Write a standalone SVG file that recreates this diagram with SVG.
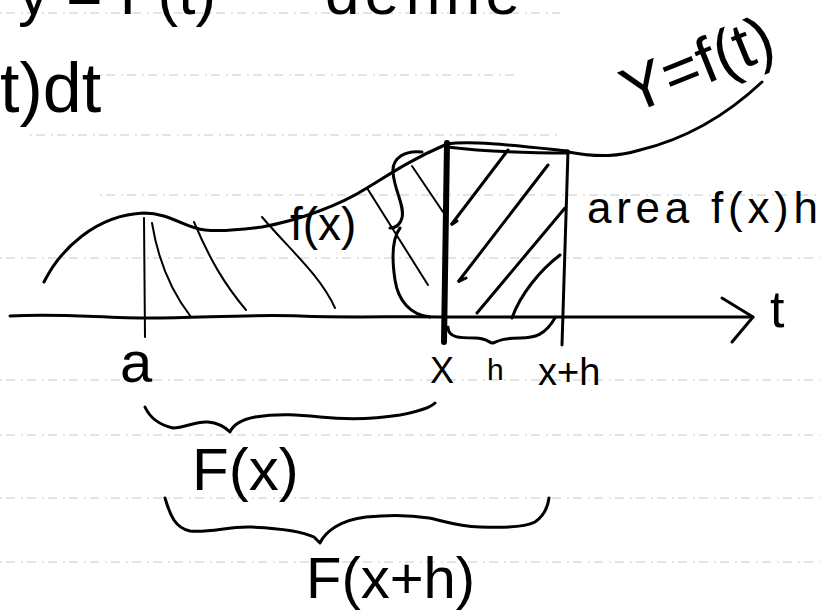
<svg xmlns="http://www.w3.org/2000/svg" width="820" height="616" viewBox="0 0 820 616">
<style>
.rule{stroke:#c8c8c8;stroke-width:1;stroke-dasharray:2 4 9 6;fill:none}
.ink{stroke:#000;stroke-width:3;fill:none;stroke-linecap:round;stroke-linejoin:round}
.thin{stroke:#000;stroke-width:2;fill:none;stroke-linecap:round}
.hatch{stroke:#000;stroke-width:3;fill:none;stroke-linecap:round}
.thick{stroke:#000;stroke-width:6;fill:none;stroke-linecap:round}
text{font-family:"Liberation Sans",Arial,sans-serif;fill:#000}
</style>
<rect width="820" height="616" fill="#fff"/>
<g id="rules">
<line class="rule" x1="0" y1="13" x2="560" y2="13"/>
<line class="rule" x1="100" y1="75" x2="520" y2="75"/>
<line class="rule" x1="30" y1="135" x2="560" y2="135"/>
<line class="rule" x1="100" y1="195" x2="820" y2="195"/>
<line class="rule" x1="0" y1="258" x2="820" y2="258"/>
<line class="rule" x1="0" y1="380" x2="820" y2="380"/>
<line class="rule" x1="0" y1="435" x2="820" y2="435"/>
<line class="rule" x1="0" y1="498" x2="820" y2="498"/>
<line class="rule" x1="0" y1="562" x2="820" y2="562"/>
</g>
<g id="top-text">
<text x="18" y="14" font-size="62">y = F(t)</text>
<text x="325" y="14" font-size="62" textLength="195" lengthAdjust="spacing">define</text>
<text x="0" y="112" font-size="70">t)dt</text>
</g>
<g id="curve">
<path class="ink" d="M44,282 C60,250 95,215 144,213 C170,213 185,228 205,230 C225,232 245,229 262,227 C300,220 340,205 367,188 C390,174 410,160 447,144"/>
<path class="ink" d="M447,144 C470,140 520,146 568,151"/>
<path class="ink" d="M447,147 C480,151 520,153 568,153"/>
<path class="ink" d="M568,152 C600,158 620,156 640,150 C690,138 730,112 762,82"/>
<text x="632" y="114" font-size="64" transform="rotate(-22 632 114)">Y=f(t)</text>
</g>
<g id="axis">
<path class="ink" d="M10,316 C60,313 100,318 150,318 C200,318 250,314 300,316 C350,318 400,316 447,317 L753,317"/>
<path class="ink" d="M722,298 L753,317 L732,342"/>
<text x="770" y="327" font-size="52">t</text>
</g>
<g id="region-hatch">
<path class="thin" d="M144,218 L145,337"/>
<path class="thin" d="M152,223 C158,260 170,290 191,317"/>
<path class="thin" d="M194,222 C210,260 225,285 246,310"/>
<path class="thin" d="M262,217 C290,250 320,275 335,308"/>
<path class="thin" d="M367,188 L428,285"/>
<path class="thin" d="M412,166 L443,212" stroke-width="1.5"/>
<text x="290" y="240" font-size="46">f(x)</text>
<path class="ink" d="M422,152 C405,150 392,158 393,172 C394,190 405,205 402,218 C400,225 395,228 390,228 M400,228 C391,240 392,260 395,280 C398,300 410,315 430,317"/>
</g>
<g id="strip">
<path class="thick" d="M447,143 L444,342"/>
<path class="ink" d="M568,151 L562,345"/>
<path class="hatch" d="M508,150 L451,225 L457,221"/>
<path class="hatch" d="M548,165 L458,282 L466,278"/>
<path class="hatch" d="M565,208 L477,313"/>
<path class="hatch" d="M560,255 C540,270 520,295 512,318"/>
<path class="ink" d="M448,327 C448,338 460,338 475,338 C488,338 490,344 493,343 C500,340 505,338 520,338 C535,338 545,335 555,318"/>
<text x="587" y="223" font-size="44" textLength="231" lengthAdjust="spacing">area f(x)h</text>
</g>
<g id="labels">
<text x="120" y="382" font-size="58">a</text>
<text x="430" y="383" font-size="36">X</text>
<text x="487" y="380" font-size="30">h</text>
<text x="538" y="385" font-size="38">x+h</text>
</g>
<g id="brace-Fx">
<path class="ink" d="M145,407 C150,418 160,425 173,428 C185,428 195,421 208,422 C220,423 226,428 230,432 C233,425 240,420 255,417 C280,413 300,415 320,417 C350,420 375,419 400,415 C420,411 430,408 435,403"/>
<text x="192" y="490" font-size="60">F(x)</text>
</g>
<g id="brace-Fxh">
<path class="ink" d="M165,498 C170,515 175,528 190,531 C210,533 230,526 251,527 C275,528 300,530 314,537 L320,543 C325,532 340,520 366,517 C385,515 405,514 429,518 C445,521 455,526 480,527 C505,528 525,527 535,522 C545,515 548,506 549,498"/>
<text x="306" y="598" font-size="58">F(x+h)</text>
</g>
</svg>
